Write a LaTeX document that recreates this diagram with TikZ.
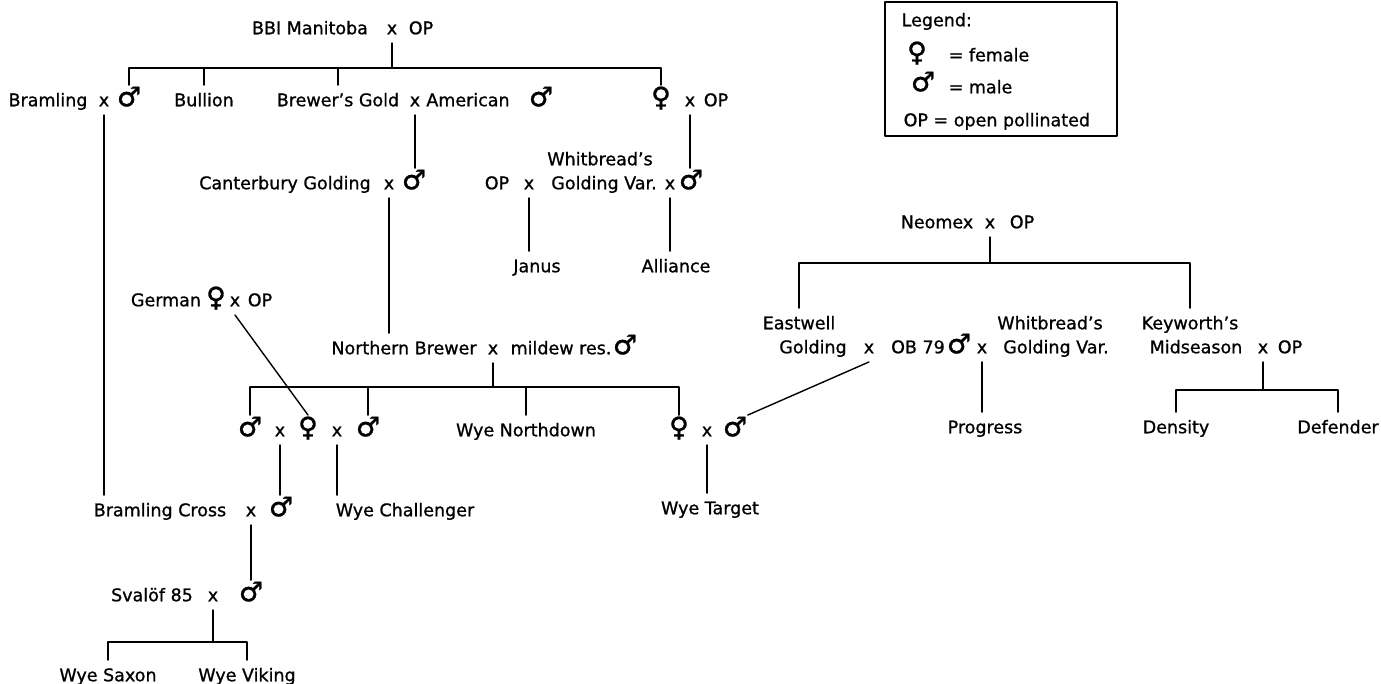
\documentclass[tikz,border=0pt]{standalone}
\usepackage{fontspec}
\setmainfont{DejaVu Sans}[FakeBold=1]
\begin{document}
\begin{tikzpicture}[x=1pt, y=-1pt, line width=1.4pt, line join=round, line cap=round, font=\fontsize{17.5}{20}\selectfont,
 every node/.style={inner xsep=0pt, inner ysep=8pt, text height=12.5pt, text depth=0pt},
 sx/.style={font=\fontsize{27}{28}\selectfont}]
 \useasboundingbox (0,0) rectangle (1381,683);
 \coordinate (bar0) at (0,68); \coordinate (bar3) at (0,387); \coordinate (bar6) at (0,642);
 \coordinate (barN) at (0,263); \coordinate (barM) at (0,390);
 \node (bbi) at (310,28) {BBI Manitoba}; \node (bbix) at (392,28) {x}; \node (bbiop) at (421,28) {OP};
 \node (bram) at (48,100) {Bramling}; \node (bramx) at (104,100) {x}; \node[sx] (bramm) at (129,100) {♂};
 \node (bull) at (204,100) {Bullion};
 \node (bgold) at (338,100) {Brewer's Gold}; \node (bgx) at (415,100) {x};
 \node (amer) at (468,100) {American}; \node[sx] (amerm) at (541,100) {♂};
 \node[sx] (oq) at (661,100) {♀}; \node (oqx) at (690,100) {x}; \node (oqop) at (716,100) {OP};
 \node (cant) at (285,183) {Canterbury Golding}; \node (cantx) at (389,183) {x}; \node[sx] (cantm) at (414,183) {♂};
 \node (op2) at (497,183) {OP}; \node (op2x) at (529,183) {x};
 \node (whit) at (600,159) {Whitbread's}; \node (wgv) at (604,183) {Golding Var.};
 \node (wgvx) at (670,183) {x}; \node[sx] (wgvm) at (691,183) {♂};
 \node (janus) at (537,266) {Janus}; \node (alli) at (676,266) {Alliance};
 \node (germ) at (166,300) {German}; \node[sx] (germq) at (216,300) {♀}; \node (germx) at (235,300) {x}; \node (germop) at (260,300) {OP};
 \node (nb) at (404,348) {Northern Brewer}; \node (nbx) at (493,348) {x};
 \node (mild) at (561,348) {mildew res.}; \node[sx] (mildm) at (625,348) {♂};
 \node[sx] (r4m1) at (250,430) {♂}; \node (r4x1) at (280,430) {x}; \node[sx] (r4q) at (308,430) {♀};
 \node (r4x2) at (337,430) {x}; \node[sx] (r4m2) at (368,430) {♂};
 \node (wnd) at (526,430) {Wye Northdown};
 \node[sx] (wtq) at (679,430) {♀}; \node (wtx) at (707,430) {x}; \node[sx] (wtm) at (735,430) {♂};
 \node (bcross) at (160,510) {Bramling Cross}; \node (bcx) at (251,510) {x}; \node[sx] (bcm) at (281,510) {♂};
 \node (wchal) at (405,510) {Wye Challenger}; \node (wtarg) at (710,508) {Wye Target};
 \node (sval) at (152,595) {Svalöf 85}; \node (svx) at (213,595) {x}; \node[sx] (svm) at (251,595) {♂};
 \node (wsax) at (108,675) {Wye Saxon}; \node (wvik) at (247,675) {Wye Viking};
 \node (neo) at (937,222) {Neomex}; \node (neox) at (990,222) {x}; \node (neoop) at (1022,222) {OP};
 \node (east) at (799,323) {Eastwell}; \node (eg) at (813,347) {Golding}; \node (egx) at (869,347) {x};
 \node (ob) at (918,347) {OB 79}; \node[sx] (obm) at (959,347) {♂}; \node (obx) at (982,347) {x};
 \node (whit2) at (1050,323) {Whitbread's}; \node (wgv2) at (1056,347) {Golding Var.};
 \node (keyw) at (1190,323) {Keyworth's}; \node (mids) at (1196,347) {Midseason};
 \node (midx) at (1263,347) {x}; \node (midop) at (1290,347) {OP};
 \node (prog) at (985,427) {Progress}; \node (dens) at (1176,427) {Density}; \node (defe) at (1338,427) {Defender};
 \draw (bbix.south) -- (bbix |- bar0);
 \draw (bramm.north) |- (bar0 -| oq) -- (oq.north);
 \foreach \n in {bull,bgold} \draw (\n.north) -- (\n |- bar0);
 \draw (nbx.south) -- (nbx |- bar3);
 \draw (r4m1.north) |- (bar3 -| wtq) -- (wtq.north);
 \foreach \n in {r4m2,wnd} \draw (\n.north) -- (\n |- bar3);
 \draw (svx.south) -- (svx |- bar6);
 \draw (wsax.north) |- (bar6 -| wvik) -- (wvik.north);
 \draw (neox.south) -- (neox |- barN);
 \draw (east.north) |- (barN -| keyw) -- (keyw.north);
 \draw (midx.south) -- (midx |- barM);
 \draw (dens.north) |- (barM -| defe) -- (defe.north);
 \foreach \a/\b in {bramx/bcross,bgx/cantm,oqx/wgvm,op2x/janus,wgvx/alli,cantx/nb,r4x1/bcm,r4x2/wchal,wtx/wtarg,bcx/svm,obx/prog}
 \draw (\a.south) -- (\a.south |- \b.north);
 \draw (germx.south) -- (r4q.north);
 \draw (egx.south) -- (wtm.north east);
 \draw (885,2) rectangle (1117,136);
 \node[anchor=west] (leg) at (901,20) {Legend:};
 \node[sx] (legq) at (917,55) {♀}; \node[anchor=west] (legqt) at (948,55) {= female};
 \node[sx] (legm) at (923,85) {♂}; \node[anchor=west] (legmt) at (948,87) {= male};
 \node[anchor=west] (legop) at (903,120) {OP = open pollinated};
\end{tikzpicture}
\end{document}
